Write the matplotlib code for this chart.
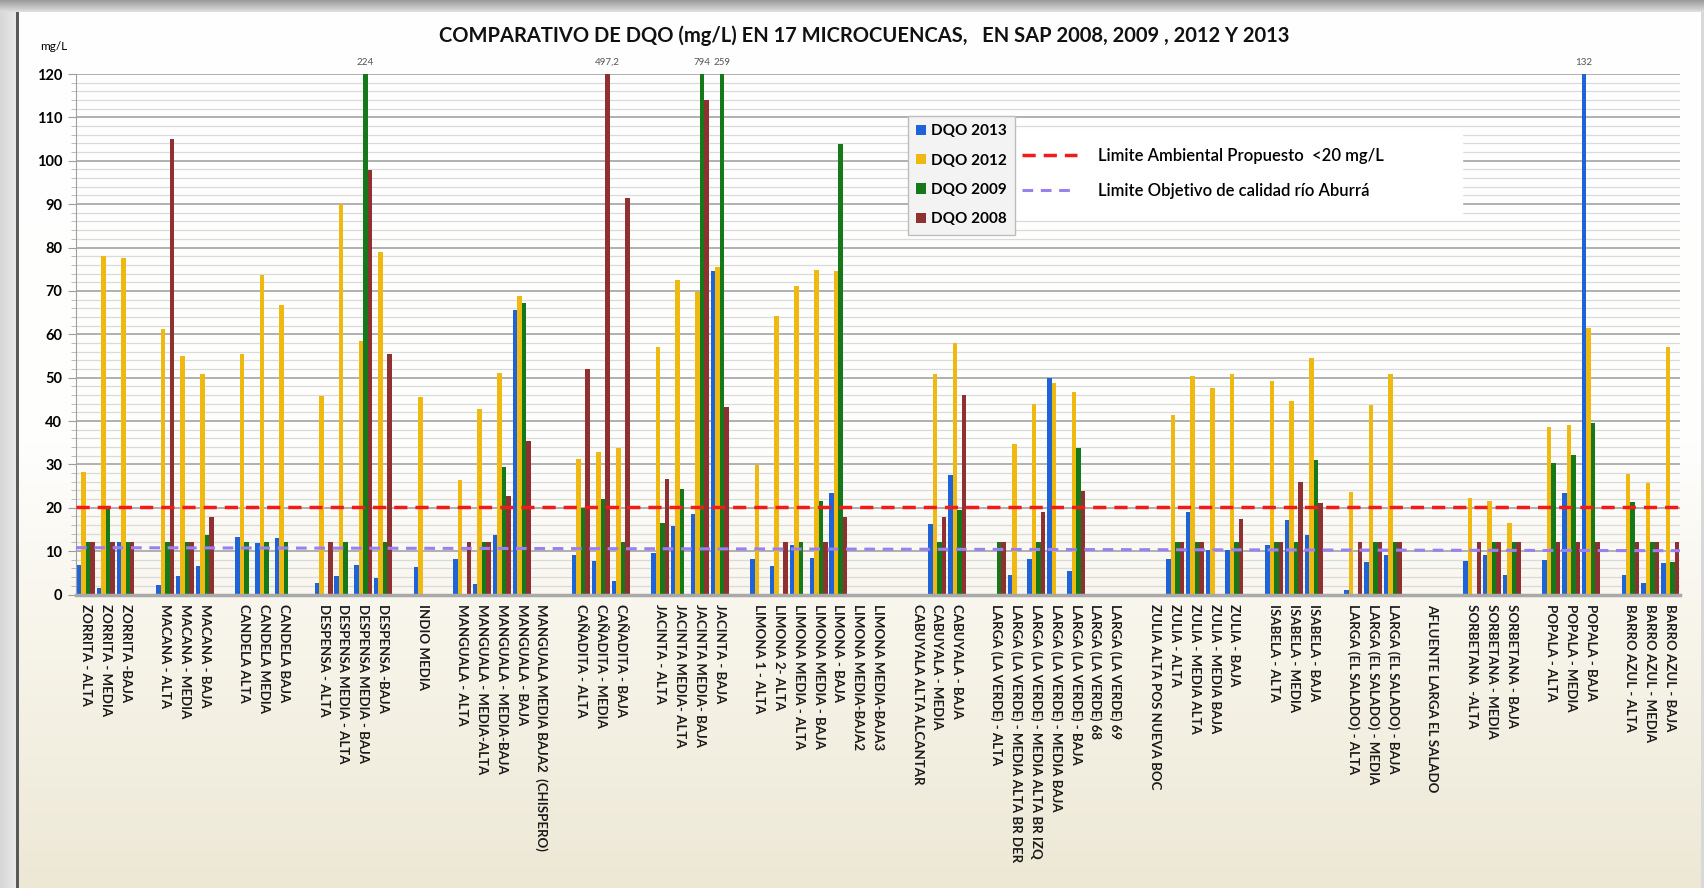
import numpy as np
import matplotlib
matplotlib.use("Agg")
import matplotlib.pyplot as plt
from matplotlib.lines import Line2D
from matplotlib.patches import Patch
from matplotlib.ticker import MultipleLocator

plt.rcParams['font.family'] = ['Lato', 'DejaVu Sans']

# =========================================================
# DATA  (None = empty separator slot between microcuencas)
# =========================================================

labels = [
    "ZORRITA - ALTA", "ZORRITA - MEDIA", "ZORRITA -BAJA", "",
    "MACANA - ALTA", "MACANA - MEDIA", "MACANA - BAJA", "",
    "CANDELA ALTA", "CANDELA MEDIA", "CANDELA BAJA", "",
    "DESPENSA - ALTA", "DESPENSA MEDIA - ALTA", "DESPENSA MEDIA - BAJA", "DESPENSA -BAJA", "",
    "INDIO MEDIA", "",
    "MANGUALA - ALTA", "MANGUALA - MEDIA-ALTA", "MANGUALA - MEDIA-BAJA", "MANGUALA - BAJA",
    "MANGUALA MEDIA BAJA2  (CHISPERO)", "",
    "CAÑADITA - ALTA", "CAÑADITA - MEDIA", "CAÑADITA - BAJA", "",
    "JACINTA - ALTA", "JACINTA MEDIA- ALTA", "JACINTA MEDIA- BAJA", "JACINTA - BAJA", "",
    "LIMONA 1 - ALTA", "LIMONA 2- ALTA", "LIMONA MEDIA - ALTA", "LIMONA MEDIA - BAJA",
    "LIMONA - BAJA", "LIMONA MEDIA-BAJA2", "LIMONA MEDIA-BAJA3", "",
    "CABUYALA ALTA ALCANTAR", "CABUYALA - MEDIA", "CABUYALA - BAJA", "",
    "LARGA (LA VERDE) - ALTA", "LARGA (LA VERDE) - MEDIA ALTA BR DER",
    "LARGA (LA VERDE) - MEDIA ALTA BR IZQ", "LARGA (LA VERDE) - MEDIA BAJA",
    "LARGA (LA VERDE) - BAJA", "LARGA (LA VERDE) 68", "LARGA (LA VERDE) 69", "",
    "ZULIA ALTA POS NUEVA BOC", "ZULIA - ALTA", "ZULIA - MEDIA ALTA", "ZULIA - MEDIA BAJA",
    "ZULIA - BAJA", "",
    "ISABELA - ALTA", "ISABELA - MEDIA", "ISABELA - BAJA", "",
    "LARGA (EL SALADO) - ALTA", "LARGA (EL SALADO) - MEDIA", "LARGA (EL SALADO) - BAJA", "",
    "AFLUENTE LARGA EL SALADO", "",
    "SORBETANA  -ALTA", "SORBETANA - MEDIA", "SORBETANA - BAJA", "",
    "POPALA - ALTA", "POPALA - MEDIA", "POPALA - BAJA", "",
    "BARRO AZUL - ALTA", "BARRO AZUL - MEDIA", "BARRO AZUL - BAJA",
]

dqo_2013 = [
    6.7, 1.5, 12, None,
    2.3, 4.2, 6.5, None,
    13.2, 11.8, 13.0, None,
    2.6, 4.3, 6.8, 3.8, None,
    6.3, None,
    8.2, 2.5, 13.8, 65.5, 0, None,
    9.2, 7.8, 3.2, None,
    9.5, 15.8, 18.5, 74.6, None,
    8.2, 6.6, 11.5, 8.5, 23.5, 0, 0, None,
    0, 16.2, 27.6, None,
    0, 4.6, 8.2, 50.0, 5.4, 0, 0, None,
    0, 8.2, 19.0, 10.3, 10.3, None,
    11.5, 17.1, 13.8, None,
    1.1, 7.5, 9.2, None,
    0, None,
    7.7, 9.2, 4.5, None,
    8.0, 23.4, 132, None,
    4.5, 2.6, 7.2,
]

dqo_2012 = [
    28.2, 78.0, 77.6, None,
    61.3, 54.9, 50.9, None,
    55.5, 73.6, 66.7, None,
    45.7, 90.0, 58.4, 79.0, None,
    45.5, None,
    26.5, 42.8, 51.0, 68.8, 0, None,
    31.3, 32.8, 33.8, None,
    57.1, 72.6, 69.7, 75.4, None,
    29.8, 64.3, 71.2, 74.7, 74.5, 0, 0, None,
    0, 50.8, 58.0, None,
    0, 34.6, 44.0, 48.8, 46.7, 0, 0, None,
    0, 41.3, 50.3, 47.5, 50.8, None,
    49.2, 44.5, 54.5, None,
    23.6, 43.8, 50.9, None,
    0, None,
    22.2, 21.5, 16.5, None,
    38.6, 39.0, 61.5, None,
    27.8, 25.8, 57.0,
]

dqo_2009 = [
    12, 19.8, 12, None,
    12, 12, 13.8, None,
    12, 12, 12, None,
    0, 12, 224, 12, None,
    0, None,
    0, 12, 29.4, 67.2, 0, None,
    19.9, 22.1, 12, None,
    16.5, 24.4, 794, 259, None,
    0, 0, 12, 21.5, 103.8, 0, 0, None,
    0, 12, 19.5, None,
    12, 0, 12, 0, 33.8, 0, 0, None,
    0, 12, 12, 0, 12, None,
    12, 12, 30.9, None,
    0, 12, 12, None,
    0, None,
    0, 12, 12, None,
    30.3, 32.1, 39.5, None,
    21.3, 12, 7.5,
]

dqo_2008 = [
    12, 12, 12, None,
    105, 12, 17.8, None,
    0, 0, 0, None,
    12, 0, 97.8, 55.4, None,
    0, None,
    12, 12, 22.8, 35.4, 0, None,
    52.1, 497.2, 91.4, None,
    26.7, 0, 113.9, 43.3, None,
    0, 12, 0, 12, 17.8, 0, 0, None,
    0, 17.8, 45.9, None,
    12, 0, 19.0, 0, 23.8, 0, 0, None,
    0, 12, 12, 0, 17.3, None,
    12, 25.9, 21.2, None,
    12, 12, 12, None,
    0, None,
    12, 12, 12, None,
    12, 12, 12, None,
    12, 12, 12,
]

series_names = ["DQO 2013", "DQO 2012", "DQO 2009", "DQO 2008"]
series_colors = ["#1f63d8", "#f0b912", "#15791a", "#8f3131"]

limite_ambiental = 20.2          # mg/L (propuesto < 20)
limite_objetivo = [10.8, 10.1]   # left and right end of the sloping line

y_max = 120

# =========================================================
# FIGURE + BACKGROUND
# =========================================================

W, H = 1704, 888
fig = plt.figure(figsize=(W / 100, H / 100), dpi=100)

t = np.linspace(0, 1, H)
img = np.ones((H, W, 3))
img[:, :, 0] = np.interp(t, [0, 0.5, 0.72, 1], [255, 254, 247, 237])[:, None] / 255
img[:, :, 1] = np.interp(t, [0, 0.5, 0.72, 1], [255, 254, 244, 232])[:, None] / 255
img[:, :, 2] = np.interp(t, [0, 0.5, 0.72, 1], [255, 253, 234, 213])[:, None] / 255
# grey shadow frame on top / left
top = np.interp(np.arange(13), [0, 12], [150, 222]) / 255
img[:13, :, :] = top[:, None, None]
left = np.interp(np.arange(16), [0, 15], [215, 232]) / 255
img[13:, :16, :] = left[None, :, None]
img[13:, 16:19, :] = 0.35
img[13:, W - 3:, :] = 0.85

bg = fig.add_axes([0, 0, 1, 1], zorder=-5)
bg.imshow(img, aspect="auto", extent=(0, 1, 0, 1), interpolation="bilinear")
bg.axis("off")

# =========================================================
# BARS
# =========================================================

ax = fig.add_axes([76 / W, 1 - 594.5 / H, (1680 - 76) / W, (594.5 - 74) / H])
ax.set_facecolor("none")

x = np.arange(len(labels))
w = 0.227
offsets = [-1.5 * w, -0.5 * w, 0.5 * w, 1.5 * w]
all_series = [dqo_2013, dqo_2012, dqo_2009, dqo_2008]

handles = []
for vals, off, col, name in zip(all_series, offsets, series_colors, series_names):
    v = np.array([np.nan if a is None else a for a in vals], dtype=float)
    ax.bar(x + off, v, width=w, color=col, label=name, zorder=2)
    handles.append(Patch(facecolor=col, label=name))
    # values above the axis limit are written on top
    for xi, vi in zip(x, v):
        if not np.isnan(vi) and vi > y_max:
            txt = f"{vi:g}".replace(".", ",")
            ax.text(xi + off, y_max + 1.6, txt, ha="center", va="bottom",
                    fontsize=7, color="#555555", clip_on=False)

# limit lines
ax.axhline(limite_ambiental, color="#f01c1c", lw=2.5, ls=(0, (3.8, 2.3)), zorder=3)
ax.plot([-0.5, len(labels) - 0.5], limite_objetivo, color="#9b80f2", lw=2.2,
        ls=(0, (3.5, 2.5)), zorder=3)

# =========================================================
# AXES STYLE
# =========================================================

ax.set_xlim(-0.5, len(labels) - 0.5)
ax.set_ylim(0, y_max)
ax.yaxis.set_major_locator(MultipleLocator(10))
ax.yaxis.set_minor_locator(MultipleLocator(2))
ax.grid(which="major", axis="y", color="#9c9c9c", lw=1.1, zorder=0)
ax.grid(which="minor", axis="y", color="#dadada", lw=0.9, zorder=0)
ax.set_axisbelow(True)

for s in ["top", "right"]:
    ax.spines[s].set_visible(False)
ax.spines["left"].set_color("#a0a0a0")
ax.spines["bottom"].set_color("#a9a9a9")
ax.spines["bottom"].set_linewidth(2.5)

ax.tick_params(axis="y", which="major", length=6, color="#9c9c9c", labelsize=10.5, pad=4)
ax.tick_params(axis="y", which="minor", length=3.5, color="#b0b0b0")
for lab in ax.get_yticklabels():
    lab.set_fontweight("bold")

ax.set_xticks(x)
ax.set_xticklabels(labels, rotation=-90, fontsize=9.5, fontweight="bold", color="#1a1a1a")
ax.tick_params(axis="x", length=0, pad=7)

fig.text(54 / W, 1 - 47 / H, "mg/L", ha="center", va="center", fontsize=8.5)
fig.text(864 / W, 1 - 36 / H,
         "COMPARATIVO DE DQO (mg/L) EN 17 MICROCUENCAS,   EN SAP 2008, 2009 , 2012 Y 2013",
         ha="center", va="center", fontsize=14.5, fontweight="bold", color="#111111")

# =========================================================
# LEGENDS
# =========================================================

line_handles = [
    Line2D([], [], color="#f01c1c", lw=2.5, ls=(0, (3.8, 2.3)),
           label="Limite Ambiental Propuesto  <20 mg/L"),
    Line2D([], [], color="#9b80f2", lw=2.2, ls=(0, (3.5, 2.5)),
           label="Limite Objetivo de calidad río Aburrá"),
]
leg2 = ax.legend(handles=line_handles, loc="upper left", mode="expand",
                 bbox_to_anchor=(1005 / W, 1 - 131 / H, (1462 - 1005) / W, 0.0),
                 bbox_transform=fig.transFigure, borderaxespad=0,
                 prop={"weight": "semibold", "size": 12},
                 handlelength=3.3, handletextpad=1.3, labelspacing=1.15,
                 borderpad=1.0, fancybox=False, facecolor="white",
                 edgecolor="white", framealpha=1)
leg2.set_zorder(5)
ax.add_artist(leg2)

leg1 = ax.legend(handles=handles, loc="upper left",
                 bbox_to_anchor=(908 / W, 1 - 116 / H), bbox_transform=fig.transFigure,
                 borderaxespad=0, prop={"weight": "bold", "size": 11},
                 handlelength=0.65, handleheight=0.65, handletextpad=0.3,
                 labelspacing=1.0, borderpad=0.55, fancybox=False,
                 facecolor="#f3f3f3", edgecolor="#bdbdbd", framealpha=1)
leg1.set_zorder(6)

fig.savefig("out.png", dpi=100)
